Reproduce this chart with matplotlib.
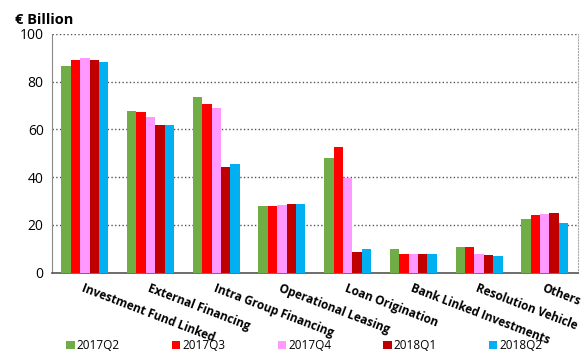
import matplotlib.pyplot as plt
import numpy as np

categories = ["Investment Fund Linked", "External Financing", "Intra Group Financing",
              "Operational Leasing", "Loan Origination", "Bank Linked Investments",
              "Resolution Vehicle", "Others"]
quarters = ["2017Q2", "2017Q3", "2017Q4", "2018Q1", "2018Q2"]
q2017_2 = [86.5, 67.8, 73.5, 27.9, 47.9, 9.7, 10.6, 22.4]
q2017_3 = [89.2, 67.3, 70.6, 27.9, 52.6, 7.8, 10.6, 24.0]
q2017_4 = [89.8, 65.1, 68.8, 28.3, 39.6, 7.8, 7.8, 24.5]
q2018_1 = [89.2, 61.7, 44.1, 28.7, 8.7, 7.8, 7.2, 24.9]
q2018_2 = [88.3, 61.7, 45.5, 28.7, 9.7, 7.8, 6.8, 20.7]
series = [q2017_2, q2017_3, q2017_4, q2018_1, q2018_2]
colors = ["#70AD47", "#FF0000", "#FF99FF", "#C00000", "#00B0F0"]

plt.rcParams['font.family'] = ['Open Sans', 'DejaVu Sans']

fig = plt.figure(figsize=(5.86, 3.53), dpi=100)
ax = fig.add_axes([0.0887, 0.228, 0.897, 0.676])

x = np.arange(len(categories))
w = 0.143
for i, (vals, c) in enumerate(zip(series, colors)):
    ax.bar(x + (i - 2) * w, vals, width=w, color=c, label=quarters[i], zorder=3)

ax.set_xlim(-0.5, len(categories) - 0.5)
ax.set_ylim(0, 100)
ax.set_yticks([0, 20, 40, 60, 80, 100])
ax.tick_params(axis='y', length=0, labelsize=10, pad=6)
ax.tick_params(axis='x', length=0)
ax.yaxis.grid(True, linestyle=':', color='#555555', linewidth=1, zorder=0)
ax.set_xticks(x)
ax.set_xticklabels([])
# rotated category labels, anchored at their upper-left corner
for xi, name in zip(x, categories):
    ax.text(xi, -4, name, rotation=-21, rotation_mode='anchor', ha='left', va='top',
            fontsize=8.5, fontweight='bold')

ax.spines['top'].set_visible(False)
ax.spines['left'].set_color('#888888')
ax.spines['right'].set_color('#aaaaaa')
ax.spines['right'].set_linestyle(':')
ax.spines['bottom'].set_color('#555555')
ax.spines['bottom'].set_linewidth(1.2)

fig.text(0.025, 0.943, "€ Billion", fontsize=10.5, fontweight='bold', va='center', ha='left')

fig.legend(loc='lower left', bbox_to_anchor=(0.095, -0.028), ncol=5, frameon=False,
           fontsize=8.5, handlelength=0.7, handleheight=0.7, handletextpad=0.2,
           columnspacing=4.4)

fig.savefig("out.png", dpi=100)
